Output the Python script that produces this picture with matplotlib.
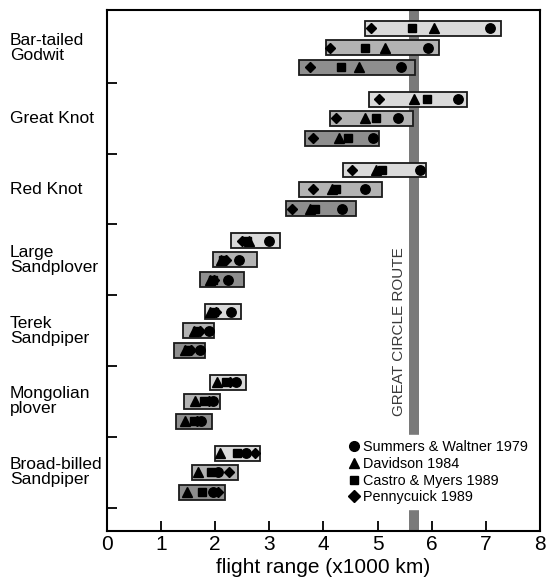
import numpy as np
import matplotlib
matplotlib.use("Agg")
import matplotlib.pyplot as plt
from matplotlib.lines import Line2D

plt.rcParams['font.family'] = ['Liberation Sans', 'DejaVu Sans']

species = ["Bar-tailed\nGodwit", "Great Knot", "Red Knot", "Large\nSandplover",
           "Terek\nSandpiper", "Mongolian\nplover", "Broad-billed\nSandpiper"]

# range of each bar (x1000 km), three bars per species, top to bottom
bar_lo = [[4.77, 4.05, 3.55], [4.84, 4.12, 3.65], [4.37, 3.55, 3.31],
          [2.29, 1.95, 1.71], [1.81, 1.41, 1.24], [1.90, 1.42, 1.28],
          [2.00, 1.58, 1.33]]
bar_hi = [[7.28, 6.14, 5.69], [6.65, 5.65, 5.03], [5.89, 5.09, 4.60],
          [3.20, 2.78, 2.53], [2.47, 1.98, 1.82], [2.56, 2.09, 1.94],
          [2.83, 2.43, 2.19]]

# estimates by method
summers = [[7.08, 5.93, 5.43], [6.49, 5.38, 4.91], [5.79, 4.77, 4.34],
           [3.00, 2.44, 2.23], [2.29, 1.89, 1.71], [2.38, 1.95, 1.73],
           [2.57, 2.05, 1.95]]
davidson = [[6.04, 5.14, 4.65], [5.67, 4.77, 4.28], [4.98, 4.15, 3.75],
            [2.62, 2.10, 1.90], [1.90, 1.60, 1.45], [2.03, 1.63, 1.44],
            [2.09, 1.69, 1.47]]
castro = [[5.63, 4.77, 4.33], [5.91, 4.98, 4.46], [5.09, 4.24, 3.84],
          [2.58, 2.15, 1.95], [1.97, 1.66, 1.50], [2.20, 1.80, 1.60],
          [2.41, 1.92, 1.75]]
pennycuick = [[4.87, 4.13, 3.76], [5.03, 4.23, 3.80], [4.52, 3.80, 3.41],
              [2.50, 2.20, 1.98], [2.02, 1.71, 1.56], [2.28, 1.88, 1.66],
              [2.74, 2.26, 2.05]]

great_circle = (5.59, 5.77)

fig = plt.figure(figsize=(5.47, 5.79), dpi=100)
ax = fig.add_axes([0.1956, 0.0829, 0.7914, 0.8998])

ax.axvspan(great_circle[0], great_circle[1], color='#7a7a7a', zorder=1, lw=0)
ax.text(great_circle[0] - 0.2, 4.52, "GREAT CIRCLE ROUTE", rotation=90,
        ha='center', va='center', fontsize=11, color='#3a3a3a', zorder=2)

offsets = [0.23, 0.50, 0.78]
shades = ['#dadada', '#b3b3b3', '#8e8e8e']
ms = dict(color='black', linestyle='none', zorder=4)

for i in range(len(species)):
    for j in range(3):
        y = i + offsets[j]
        ax.barh(y, bar_hi[i][j] - bar_lo[i][j], left=bar_lo[i][j], height=0.21,
                color=shades[j], edgecolor='#1a1a1a', linewidth=1.3, zorder=3)
        ax.plot(summers[i][j], y, marker='o', markersize=6.8, **ms)
        ax.plot(davidson[i][j], y, marker='^', markersize=7.2, **ms)
        ax.plot(castro[i][j], y, marker='s', markersize=5.5, **ms)
        ax.plot(pennycuick[i][j], y, marker='D', markersize=5.5, **ms)
    ax.text(-0.224, i + 0.5, species[i], transform=ax.get_yaxis_transform(),
            ha='left', va='center', fontsize=12.5, linespacing=1.0)

ax.set_xlim(0, 8)
ax.set_ylim(7.33, -0.03)
ax.set_xticks(range(9))
ax.set_yticks(range(1, 8))
ax.set_yticklabels([])
ax.tick_params(axis='x', direction='in', length=7, width=1.3, labelsize=15, pad=3)
ax.tick_params(axis='y', direction='in', length=7, width=1.3)
for s in ax.spines.values():
    s.set_linewidth(1.5)
    s.set_zorder(6)
ax.set_xlabel("flight range (x1000 km)", fontsize=15, labelpad=3)

handles = [Line2D([], [], marker='o', markersize=7, color='black', linestyle='none'),
           Line2D([], [], marker='^', markersize=7.5, color='black', linestyle='none'),
           Line2D([], [], marker='s', markersize=6, color='black', linestyle='none'),
           Line2D([], [], marker='D', markersize=6, color='black', linestyle='none')]
labels = ["Summers & Waltner 1979", "Davidson 1984", "Castro & Myers 1989",
          "Pennycuick 1989"]
leg = ax.legend(handles, labels, loc='center left', bbox_to_anchor=(0.535, 0.113),
                fontsize=10.4, handlelength=0.6, handletextpad=0.3, labelspacing=0.2,
                borderpad=0.3, framealpha=1, fancybox=False, edgecolor='white')
leg.set_zorder(5)

fig.savefig("out.png", dpi=100)
